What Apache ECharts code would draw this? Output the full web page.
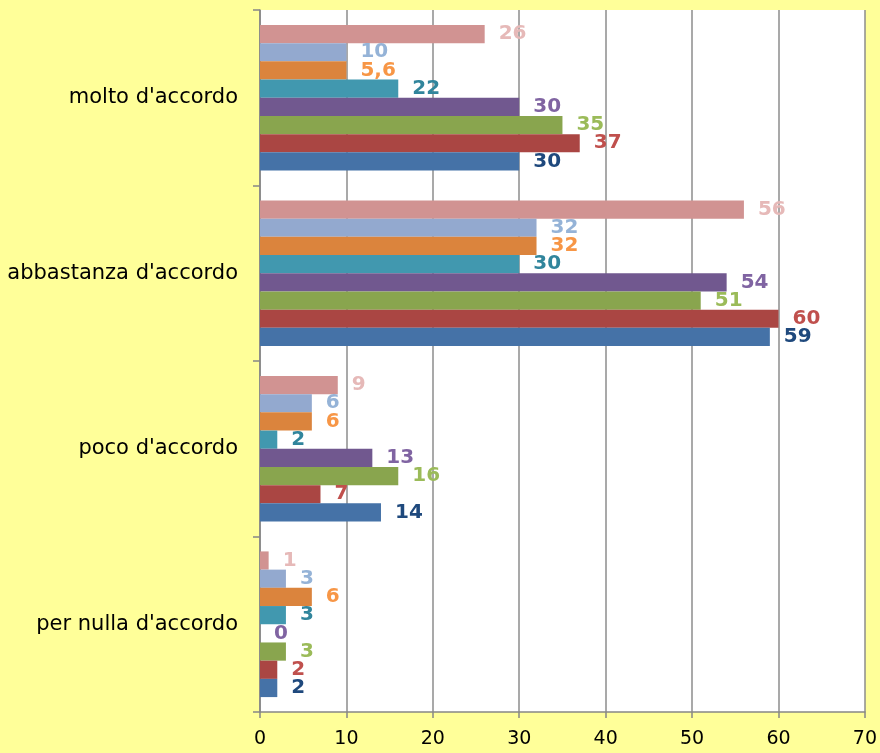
<!DOCTYPE html>
<html>
<head>
<meta charset="utf-8">
<script src="https://cdn.jsdelivr.net/npm/echarts@6/dist/echarts.min.js"></script>
<style>
html,body{margin:0;padding:0;background:#FFFF99;}
#c{width:880px;height:753px;}
</style>
</head>
<body>
<div id="c"></div>
<script>
const categories = ["per nulla d'accordo", "poco d'accordo", "abbastanza d'accordo", "molto d'accordo"];
const xTicks = [0, 10, 20, 30, 40, 50, 60, 70];
// bar lengths, bottom series of each group first
const serie1 = [2, 14, 59, 30];
const serie2 = [2, 7, 60, 37];
const serie3 = [3, 16, 51, 35];
const serie4 = [0, 13, 54, 30];
const serie5 = [3, 2, 30, 16];
const serie6 = [6, 6, 32, 10];
const serie7 = [3, 6, 32, 10];
const serie8 = [1, 9, 56, 26];
// label texts shown next to bars
const label1 = ['2', '14', '59', '30'];
const label2 = ['2', '7', '60', '37'];
const label3 = ['3', '16', '51', '35'];
const label4 = ['0', '13', '54', '30'];
const label5 = ['3', '2', '30', '22'];
const label6 = ['6', '6', '32', '5,6'];
const label7 = ['3', '6', '32', '10'];
const label8 = ['1', '9', '56', '26'];

const values = [serie1, serie2, serie3, serie4, serie5, serie6, serie7, serie8];
const labels = [label1, label2, label3, label4, label5, label6, label7, label8];
const barColors = ['#4572A7', '#AA4643', '#89A54E', '#71588F', '#4198AF', '#DB843D', '#93A9CF', '#D19392'];
const labelColors = ['#1F497D', '#C0504D', '#9BBB59', '#8064A2', '#31859C', '#F79646', '#95B3D7', '#E6B9B8'];

const FONT = 'DejaVu Sans';
// ECharts stacks the first series at the top of a horizontal group, so list them top-down
const order = [7, 6, 5, 4, 3, 2, 1, 0];
const chart = echarts.init(document.getElementById('c'));
chart.setOption({
  backgroundColor: '#FFFF99',
  animation: false,
  grid: {left: 260, top: 10, right: 12, bottom: 41, show: true, backgroundColor: '#FFFFFF', borderWidth: 0},
  xAxis: {
    type: 'value', min: xTicks[0], max: xTicks[xTicks.length - 1], interval: 10,
    axisLine: {show: true, lineStyle: {color: '#868686', width: 1.5}},
    axisTick: {show: true, length: 6, lineStyle: {color: '#868686', width: 1.5}},
    axisLabel: {color: '#000', fontFamily: FONT, fontSize: 19, margin: 18},
    splitLine: {show: true, lineStyle: {color: '#8C8C8C', width: 1.5}}
  },
  yAxis: {
    type: 'category', data: categories,
    axisLine: {show: true, lineStyle: {color: '#868686', width: 1.5}},
    axisTick: {show: true, length: 7, lineStyle: {color: '#868686', width: 1.5}},
    axisLabel: {color: '#000', fontFamily: FONT, fontSize: 21, margin: 22},
    splitLine: {show: false}
  },
  series: order.map(i => ({
    type: 'bar',
    name: 'Serie ' + (i + 1),
    data: values[i],
    barGap: '0%',
    barCategoryGap: '17%',
    itemStyle: {color: barColors[i]},
    label: {
      show: true, position: 'right', distance: 14,
      color: labelColors[i], fontFamily: FONT, fontSize: 20, fontWeight: 'bold',
      formatter: p => labels[i][p.dataIndex]
    }
  }))
});
</script>
</body>
</html>
